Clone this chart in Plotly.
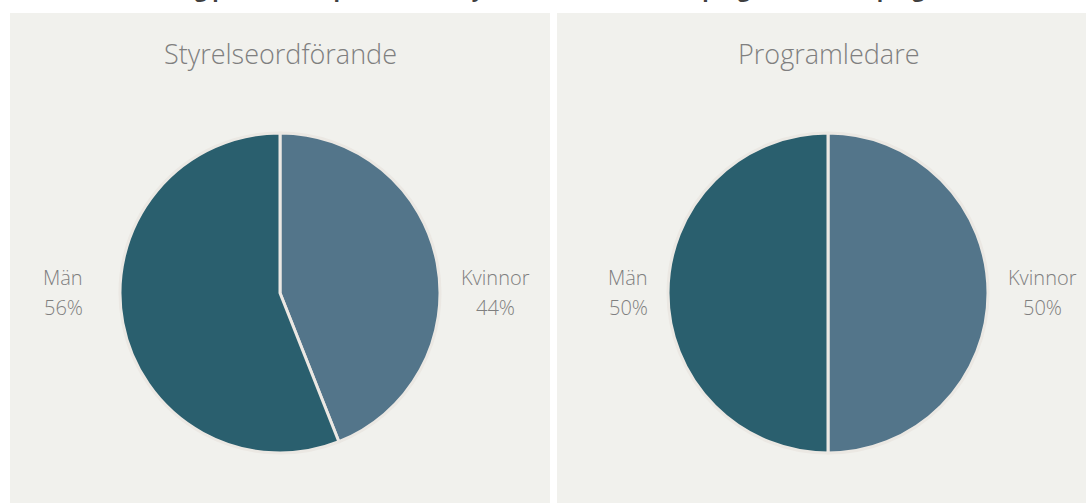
import plotly.graph_objects as go

# Data
panel_titles = ["Styrelseordförande", "Programledare"]
categories = ["Kvinnor", "Män"]
styrelse_values = [44, 56]
programledare_values = [50, 50]
pct_labels_styrelse = ["44%", "56%"]
pct_labels_program = ["50%", "50%"]
chart_title = "Könsfördelning på ledande positioner: styrelseordförande och programledare i programmen"

W, H = 1086, 503
colors = ["#53758a", "#2a5f6e"]
panel_bg = "#f1f1ed"
label_color = "#7f7f7f"
font_family = "Open Sans, Lato, sans-serif"

fig = go.Figure()

def px_x(v):
    return v / W

def px_y(v):
    return 1 - v / H

r = 160
cy = 293
centers = [280, 828]
values_list = [styrelse_values, programledare_values]
pct_list = [pct_labels_styrelse, pct_labels_program]

for cx, vals in zip(centers, values_list):
    fig.add_trace(go.Pie(
        labels=categories,
        values=vals,
        sort=False,
        direction="clockwise",
        rotation=0,
        textinfo="none",
        hoverinfo="label+percent",
        marker=dict(colors=colors, line=dict(color="#ebe8e3", width=3)),
        domain=dict(x=[px_x(cx - r), px_x(cx + r)], y=[px_y(cy + r), px_y(cy - r)]),
        showlegend=False,
    ))

# Panel backgrounds
panels = [(10, 550), (557, 1086)]
shapes = []
for x0, x1 in panels:
    shapes.append(dict(type="rect", xref="paper", yref="paper",
                       x0=px_x(x0), x1=px_x(x1), y0=0, y1=px_y(13),
                       fillcolor=panel_bg, line=dict(width=0), layer="below"))

annotations = []
for cx, t in zip(centers, panel_titles):
    annotations.append(dict(text=t, x=px_x(cx), y=px_y(53), xref="paper", yref="paper",
                            showarrow=False, xanchor="center", yanchor="middle",
                            font=dict(size=27, color=label_color, family=font_family, weight=300)))

# Slice labels: Kvinnor on right, Män on left (name line and percent line)
label_x = [(495, 63), (1042, 628)]
for (kx, mx), pcts in zip(label_x, pct_list):
    for x, cat, p in [(kx, categories[0], pcts[0]), (mx, categories[1], pcts[1])]:
        for txt, ly in [(cat, 277), (p, 307)]:
            annotations.append(dict(text=txt, x=px_x(x), y=px_y(ly), xref="paper", yref="paper",
                                    showarrow=False, xanchor="center", yanchor="middle", align="center",
                                    font=dict(size=20, color=label_color, family=font_family, weight=300)))

# Cut-off main title (partly above the visible area, as in the reference)
annotations.append(dict(text=f"<b>{chart_title}</b>", x=px_x(530), y=1, yshift=-5, xref="paper", yref="paper",
                        showarrow=False, xanchor="center", yanchor="bottom",
                        font=dict(size=21, color="#404040", family=font_family)))

fig.update_layout(
    width=W, height=H,
    margin=dict(l=0, r=0, t=0, b=0),
    paper_bgcolor="white",
    plot_bgcolor="white",
    shapes=shapes,
    annotations=annotations,
)

fig.write_html("out.html", config={"displayModeBar": False},
               post_script="document.body.style.margin='0';document.body.style.overflow='hidden';")
